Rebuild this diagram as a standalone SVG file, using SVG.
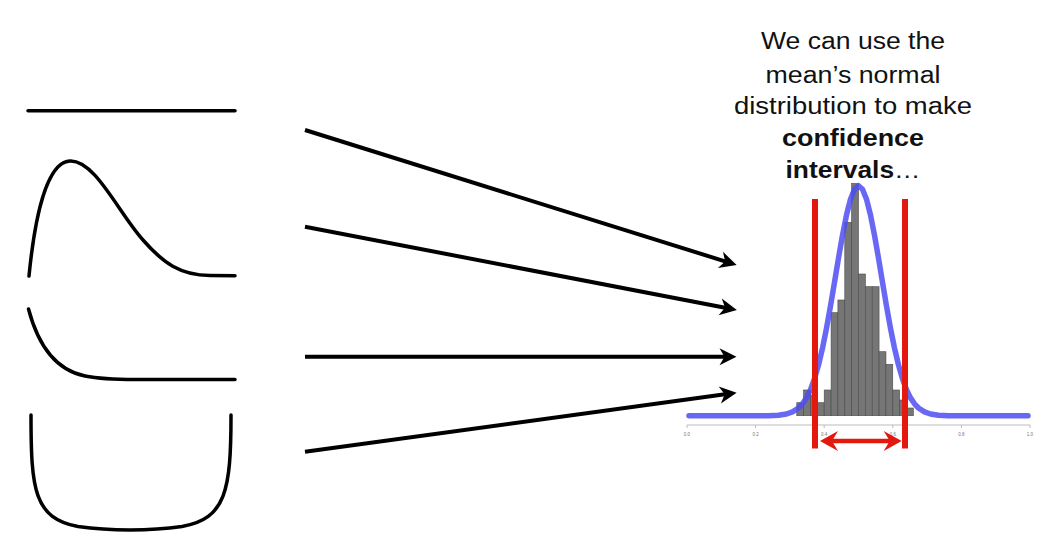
<svg xmlns="http://www.w3.org/2000/svg" width="1045" height="537" viewBox="0 0 1045 537">
  <style>
    .shape { fill: none; stroke: #000; stroke-width: 3.5; stroke-linecap: round; stroke-linejoin: round; }
    .conn { fill: none; stroke: #000; stroke-width: 4; marker-end: url(#blackHead); }
    .bar { fill: #767676; stroke: #4a4a4a; stroke-width: 0.6; }
    .ci { stroke: #e3190f; stroke-width: 6; }
    .tick { stroke: #bbb; stroke-width: 1; }
    .ticklbl { font-family: "Liberation Sans", Arial, sans-serif; font-size: 4.5px; fill: #777; text-anchor: middle; }
    .caption { font-family: "Liberation Sans", Arial, sans-serif; font-size: 23.5px; fill: #111; text-anchor: middle; }
    .bold { font-weight: bold; }
  </style>
  <defs>
    <marker id="blackHead" markerUnits="userSpaceOnUse" viewBox="-20 -10 22 20" markerWidth="22" markerHeight="20" refX="-8" refY="0" orient="auto">
      <path d="M0,0 L-17,-8.5 L-12,0 L-17,8.5 Z" fill="#000"/>
    </marker>
    <marker id="redHead" markerUnits="userSpaceOnUse" viewBox="-22 -12 24 24" markerWidth="24" markerHeight="24" refX="-9" refY="0" orient="auto-start-reverse">
      <path d="M0,0 L-18,-10 L-12,0 L-18,10 Z" fill="#e3190f"/>
    </marker>
  </defs>
  <rect width="1045" height="537" fill="#fff"/>

  <g id="dist-uniform">
    <path class="shape" d="M28,110.7 L235,110.7"/>
  </g>
  <g id="dist-skewed">
    <path class="shape" d="M29,276 C35,215 47,162 70,161 C95,160 118,212 143,240 C163,263 180,275 210,275.6 L235,275.7"/>
  </g>
  <g id="dist-exponential">
    <path class="shape" d="M28.5,309 C38,345 55,370 85,376 C100,379 115,379.5 135,379.5 L235,379.5"/>
  </g>
  <g id="dist-ushaped">
    <path class="shape" d="M31,415 C31,490 34,518 78,526.5 C110,531 150,531 182,526.5 C226,519 231,490 231,415"/>
  </g>

  <g id="connectors">
    <line class="conn" x1="305" y1="130" x2="729" y2="262.6"/>
    <line class="conn" x1="305" y1="226.7" x2="729" y2="308.5"/>
    <line class="conn" x1="305" y1="356.7" x2="728.5" y2="356.7"/>
    <line class="conn" x1="305" y1="451.7" x2="728.7" y2="393.8"/>
  </g>

  <g id="caption">
    <text class="caption" x="853" y="49" textLength="184" lengthAdjust="spacingAndGlyphs">We can use the</text>
    <text class="caption" x="853" y="82.7" textLength="175" lengthAdjust="spacingAndGlyphs">mean’s normal</text>
    <text class="caption" x="853" y="114.3" textLength="238" lengthAdjust="spacingAndGlyphs">distribution to make</text>
    <text class="caption bold" x="853" y="146" textLength="142" lengthAdjust="spacingAndGlyphs">confidence</text>
    <text class="caption" x="853" y="177.7" textLength="135" lengthAdjust="spacingAndGlyphs"><tspan class="bold">intervals</tspan>…</text>
  </g>

  <g id="sampling-distribution">
    <g id="axis">
      <line class="tick" x1="687" y1="425" x2="1030" y2="425"/>
      <line class="tick" x1="687" y1="425" x2="687" y2="428"/>
      <line class="tick" x1="755.6" y1="425" x2="755.6" y2="428"/>
      <line class="tick" x1="824.2" y1="425" x2="824.2" y2="428"/>
      <line class="tick" x1="892.8" y1="425" x2="892.8" y2="428"/>
      <line class="tick" x1="961.4" y1="425" x2="961.4" y2="428"/>
      <line class="tick" x1="1030" y1="425" x2="1030" y2="428"/>
      <text class="ticklbl" x="687" y="435.5">0.0</text>
      <text class="ticklbl" x="755.6" y="435.5">0.2</text>
      <text class="ticklbl" x="824.2" y="435.5">0.4</text>
      <text class="ticklbl" x="892.8" y="435.5">0.6</text>
      <text class="ticklbl" x="961.4" y="435.5">0.8</text>
      <text class="ticklbl" x="1030" y="435.5">1.0</text>
    </g>
    <g id="histogram">
      <rect class="bar" x="796.8" y="402.7" width="6.86" height="13"/>
      <rect class="bar" x="803.6" y="390" width="6.86" height="25.7"/>
      <rect class="bar" x="810.5" y="395" width="6.86" height="20.7"/>
      <rect class="bar" x="817.3" y="402.7" width="6.86" height="13"/>
      <rect class="bar" x="824.2" y="390" width="6.86" height="25.7"/>
      <rect class="bar" x="831.1" y="312.7" width="6.86" height="103"/>
      <rect class="bar" x="837.9" y="300" width="6.86" height="115.7"/>
      <rect class="bar" x="844.8" y="222.3" width="6.86" height="193.4"/>
      <rect class="bar" x="851.6" y="183.5" width="6.86" height="232.2"/>
      <rect class="bar" x="858.5" y="274" width="6.86" height="141.7"/>
      <rect class="bar" x="865.4" y="286.7" width="6.86" height="129"/>
      <rect class="bar" x="872.2" y="286.7" width="6.86" height="129"/>
      <rect class="bar" x="879.1" y="351.7" width="6.86" height="64"/>
      <rect class="bar" x="885.9" y="364.3" width="6.86" height="51.4"/>
      <rect class="bar" x="892.8" y="390" width="6.86" height="25.7"/>
      <rect class="bar" x="899.7" y="400" width="6.86" height="15.7"/>
      <rect class="bar" x="906.5" y="408" width="6.86" height="7.7"/>
    </g>
    <polyline id="normal-curve" fill="none" stroke="#4d4df2" stroke-opacity="0.85" stroke-width="5.5" stroke-linecap="round" stroke-linejoin="round"
      points="689,415.7 768.5,415.7 778.5,415.2 786.5,414.0 792.5,411.9 798.5,408.0 802.5,403.8 806.5,397.9 810.5,389.6 814.5,378.8 818.5,365.0 822.5,348.1 826.5,328.3 830.5,306.1 834.5,282.3 838.5,258.1 842.5,235.2 846.5,215.0 850.5,199.2 854.5,189.2 858.5,185.7 862.5,189.2 866.5,199.2 870.5,215.0 874.5,235.2 878.5,258.1 882.5,282.3 886.5,306.1 890.5,328.3 894.5,348.1 898.5,365.0 902.5,378.8 906.5,389.6 910.5,397.9 914.5,403.8 918.5,408.0 924.5,411.9 930.5,414.0 938.5,415.2 948.5,415.7 1028,415.7"/>
    <g id="confidence-interval">
      <line class="ci" x1="815" y1="199" x2="815" y2="448.5"/>
      <line class="ci" x1="905" y1="199" x2="905" y2="448.5"/>
      <line x1="829" y1="441" x2="892.7" y2="441" stroke="#e3190f" stroke-width="4.5" marker-start="url(#redHead)" marker-end="url(#redHead)"/>
    </g>
  </g>
</svg>
